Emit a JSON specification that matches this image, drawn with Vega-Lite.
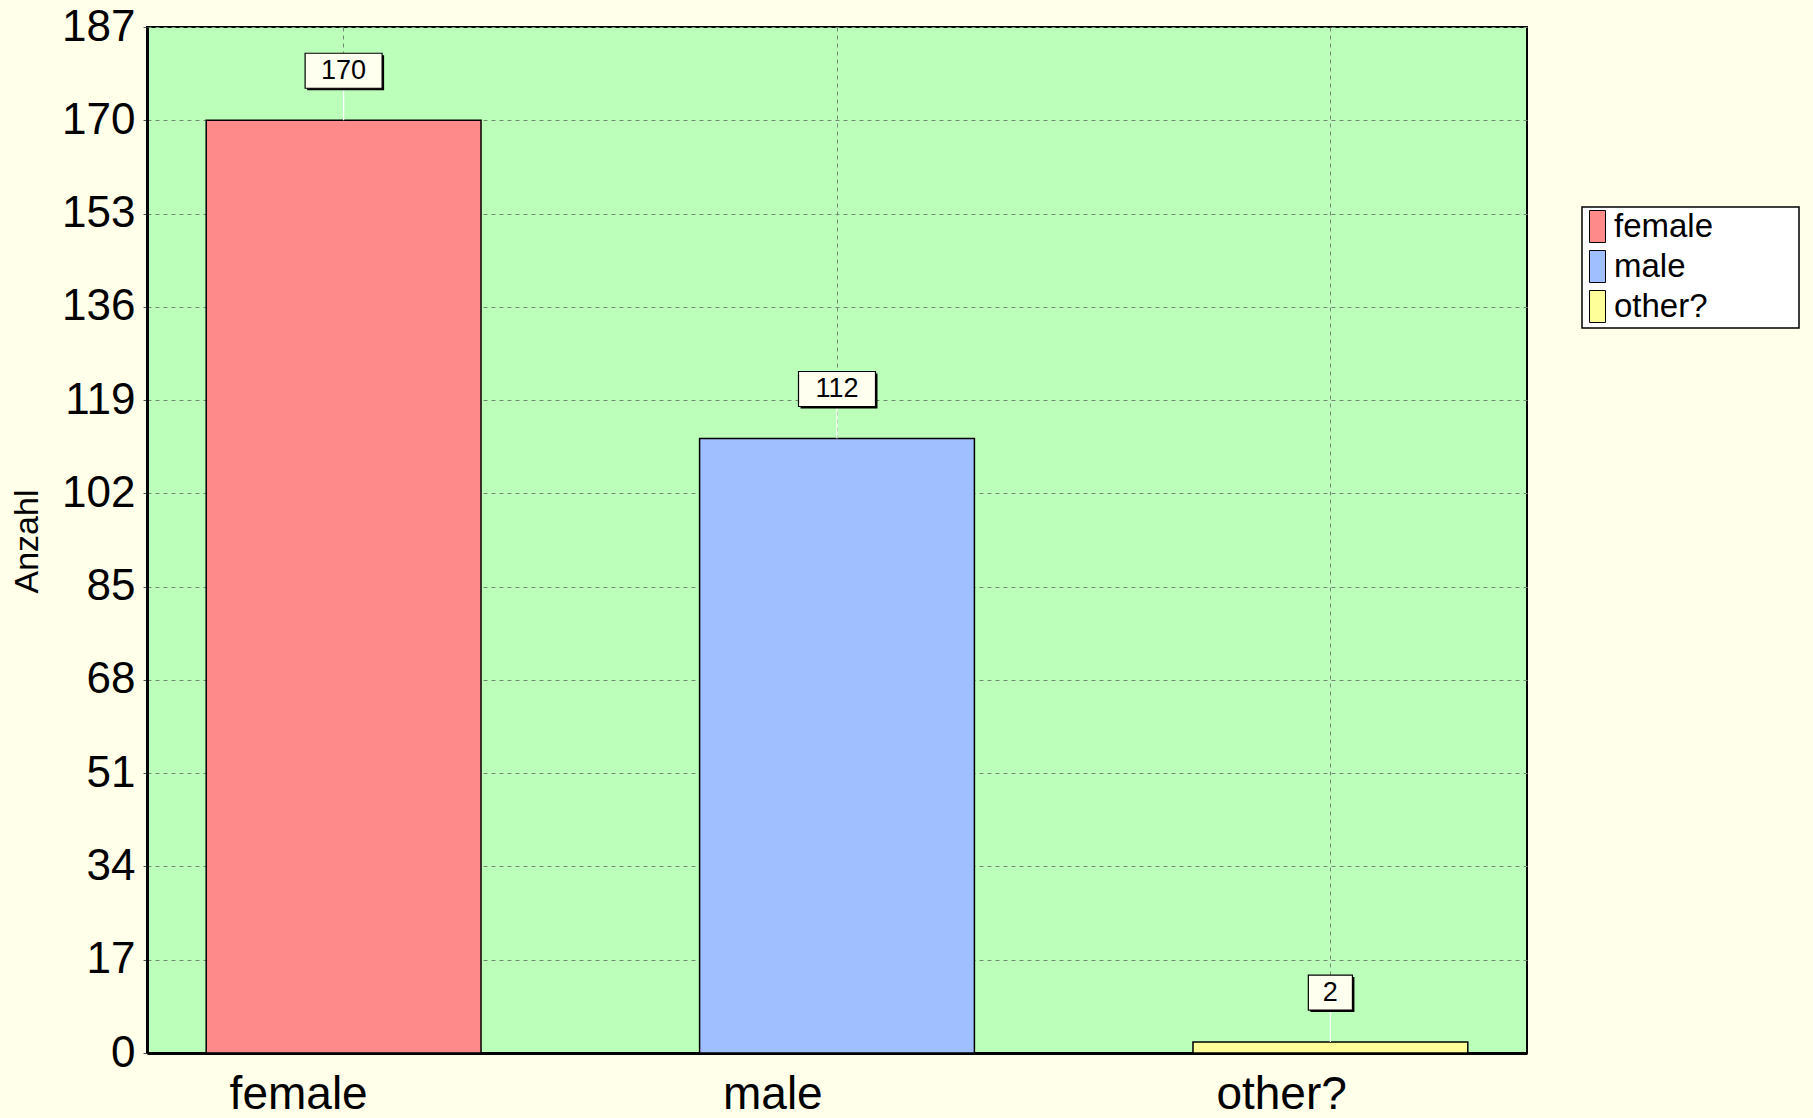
{
  "$schema": "https://vega.github.io/schema/vega-lite/v6.json",
  "autosize": {"type": "none"},
  "padding": {"left": 147, "top": 27, "right": 286, "bottom": 65},
  "width": 1380,
  "height": 1026,
  "background": "#FFFFEA",
  "config": {
    "view": {"fill": "#BBFFBB", "stroke": "#000000", "strokeWidth": 2},
    "font": "Liberation Sans",
    "legend": {"strokeWidth": 1.5}
  },
  "data": {
    "values": [
      {"gender": "female", "n": 170},
      {"gender": "male", "n": 112},
      {"gender": "other?", "n": 2}
    ]
  },
  "encoding": {
    "x": {
      "field": "gender",
      "type": "nominal",
      "sort": null,
      "scale": {"paddingInner": 0.443, "paddingOuter": 0.12},
      "axis": {
        "title": null,
        "labelAngle": 0,
        "labelFont": "Liberation Sans",
        "labelFontSize": 46,
        "labelColor": "#000000",
        "labelAlign": "left",
        "labelBaseline": "alphabetic",
        "labelOffset": -114,
        "labelPadding": 55,
        "ticks": false,
        "tickSize": 0,
        "domainColor": "#000000",
        "domainWidth": 3,
        "grid": true,
        "gridColor": "#708A70",
        "gridDash": [4, 4],
        "gridWidth": 1
      }
    },
    "y": {
      "field": "n",
      "type": "quantitative",
      "scale": {"domain": [0, 187], "nice": false},
      "axis": {
        "title": "Anzahl",
        "titleFont": "Liberation Sans",
        "titleFontSize": 34,
        "titleFontWeight": "normal",
        "titleColor": "#000000",
        "titleAngle": -90,
        "titleAlign": "center",
        "titleBaseline": "alphabetic",
        "titleX": -110,
        "titleY": 514,
        "values": [0, 17, 34, 51, 68, 85, 102, 119, 136, 153, 170, 187],
        "labelFont": "Liberation Sans",
        "labelFontSize": 44,
        "labelColor": "#000000",
        "labelPadding": 8,
        "tickSize": 4,
        "tickColor": "#555555",
        "domainColor": "#000000",
        "domainWidth": 3,
        "grid": true,
        "gridColor": "#708A70",
        "gridDash": [4, 4],
        "gridWidth": 1
      }
    }
  },
  "layer": [
    {
      "mark": {"type": "bar", "stroke": "#000000", "strokeWidth": 1.5},
      "encoding": {
        "color": {
          "field": "gender",
          "type": "nominal",
          "sort": null,
          "scale": {"domain": ["female", "male", "other?"], "range": ["#FF8A8A", "#A0BFFF", "#FFFF99"]},
          "legend": {
            "orient": "none",
            "legendX": 1435,
            "legendY": 180,
            "title": null,
            "symbolType": "M-0.5,-1L0.5,-1L0.5,1L-0.5,1Z",
            "symbolSize": 1024,
            "symbolStrokeColor": "#000000",
            "symbolStrokeWidth": 1,
            "symbolOpacity": 1,
            "symbolOffset": -4,
            "labelFont": "Liberation Sans",
            "labelFontSize": 33,
            "labelColor": "#000000",
            "labelOffset": 0,
            "labelLimit": 400,
            "labelExpr": "datum.label + '\u00a0\u00a0\u00a0\u00a0\u00a0\u00a0\u00a0\u00a0\u00a0\u200b'",
            "rowPadding": 3,
            "padding": 3,
            "fillColor": "#FFFFFF",
            "strokeColor": "#000000"
          }
        }
      }
    },
    {
      "mark": {"type": "rule", "color": "#FFFFFF", "strokeWidth": 1.2, "y2Offset": -32},
      "encoding": {
        "y2": {"field": "n"}
      }
    },
    {
      "mark": {"type": "point", "filled": true, "fill": "#000000", "opacity": 1, "strokeWidth": 0, "size": 1225, "xOffset": 2, "yOffset": -47.5},
      "encoding": {
        "shape": {
          "condition": {"test": "datum.n < 10", "value": "M-1.26,-1L1.26,-1L1.26,1L-1.26,1Z"},
          "value": "M-2.2,-1L2.2,-1L2.2,1L-2.2,1Z"
        }
      }
    },
    {
      "mark": {"type": "point", "filled": true, "fill": "#FFFFF0", "stroke": "#000000", "strokeWidth": 1.2, "opacity": 1, "size": 1225, "yOffset": -49.5},
      "encoding": {
        "shape": {
          "condition": {"test": "datum.n < 10", "value": "M-1.26,-1L1.26,-1L1.26,1L-1.26,1Z"},
          "value": "M-2.2,-1L2.2,-1L2.2,1L-2.2,1Z"
        }
      }
    },
    {
      "mark": {"type": "text", "font": "Liberation Sans", "fontSize": 27, "color": "#000000", "baseline": "middle", "align": "center", "yOffset": -49},
      "encoding": {
        "text": {"field": "n", "type": "quantitative"}
      }
    }
  ]
}
